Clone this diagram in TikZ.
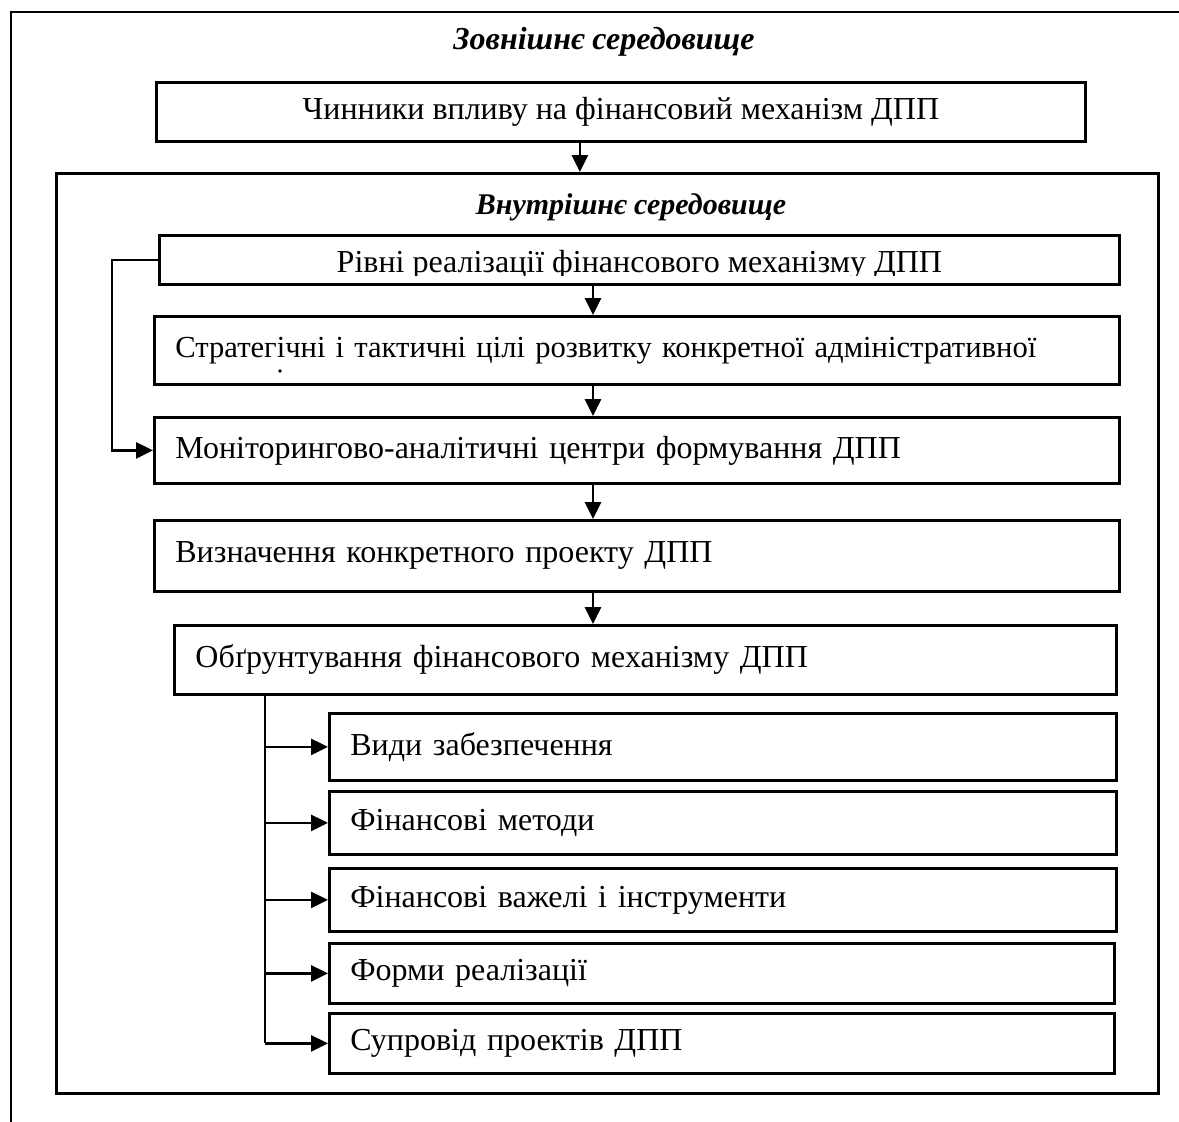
\documentclass[tikz,border=0pt]{standalone}
\usepackage{fontspec}
\setmainfont{Liberation Serif}
\usetikzlibrary{arrows.meta,positioning}

\begin{document}
\begin{tikzpicture}[
  x=1pt, y=-1pt,
  font=\fontsize{32}{37}\selectfont,
  box/.style={draw, line width=2.8pt, anchor=north west, inner ysep=0pt, inner xsep=21pt},
  boxc/.style={box, align=center},
  boxl/.style={box, align=left},
  ttl/.style={font=\fontsize{30}{35}\selectfont\bfseries\itshape},
  arr/.style={-{Triangle[length=17pt,width=16pt]}, line width=2.8pt}
]
\useasboundingbox (0,0) rectangle (1179,1122);
% outer frame (cut by the page)
\draw[line width=2.8pt] (11,1140) -- (11,12) -- (1200,12);
\node[ttl, font=\fontsize{32}{37}\selectfont\bfseries\itshape] (outer) at (604,42) {Зовнішнє середовище};
\node[boxc, minimum width=929pt, minimum height=59pt] (chynnyky) at (155,81) {Чинники впливу на фінансовий механізм ДПП};

% inner frame
\node[box, minimum width=1102pt, minimum height=920pt] (inner) at (55,172) {};
\node[ttl] (innerttl) at (631,207) {Внутрішнє середовище};

\node[box, minimum width=960pt, minimum height=49pt] (rivni) at (158,234) {};
\begin{scope}
  \clip (rivni.north west) rectangle ([yshift=10pt]rivni.south east);
  \node (rivnitxt) at ([yshift=-5pt]rivni.center) {Рівні реалізації фінансового механізму ДПП};
\end{scope}
\node[boxl, minimum width=965pt, minimum height=68pt, text width=923pt, font=\fontsize{30.6}{36}\selectfont] (strat) at (153,315) {Стратегічні і тактичні цілі розвитку конкретної адміністративної};
\node[circle, fill, inner sep=1.3pt] (stratdot) at (280,371) {};
\node[boxl, minimum width=965pt, minimum height=66pt, text width=923pt] (monit) at (153,416) {Моніторингово-аналітичні центри формування ДПП};
\node[boxl, minimum width=965pt, minimum height=71pt, text width=923pt] (vyzn) at (153,519) {Визначення конкретного проекту ДПП};
\node[boxl, minimum width=942pt, minimum height=69pt, text width=900pt] (obgr) at (173,624) {Обґрунтування фінансового механізму ДПП};

% components
\node[boxl, minimum width=787pt, minimum height=67pt, text width=745pt] (vydy) at (328,712) {Види забезпечення};
\node[boxl, minimum width=787pt, minimum height=63pt, text width=745pt] (metody) at (328,790) {Фінансові методи};
\node[boxl, minimum width=787pt, minimum height=63pt, text width=745pt] (vazheli) at (328,867) {Фінансові важелі і інструменти};
\node[boxl, minimum width=785pt, minimum height=60pt, text width=743pt] (formy) at (328,942) {Форми реалізації};
\node[boxl, minimum width=785pt, minimum height=60pt, text width=743pt] (suprovid) at (328,1012) {Супровід проектів ДПП};

\coordinate (spine) at (593,0);
\coordinate (branch) at (265,0);

\draw[arr] ([xshift=-41pt]chynnyky.south) -- ([xshift=-41pt]chynnyky.south |- inner.north);
\draw[arr] (rivni.south -| spine) -- (strat.north -| spine);
\draw[arr] (strat.south -| spine) -- (monit.north -| spine);
\draw[arr] (monit.south -| spine) -- (vyzn.north -| spine);
\draw[arr] (vyzn.south -| spine) -- (obgr.north -| spine);
\draw[arr] (rivni.west) -- ++(-46,0) |- (monit.west);
\draw[line width=2.8pt] (obgr.south -| branch) -- (suprovid.west -| branch);
\draw[arr] (vydy.west -| branch) -- (vydy.west);
\draw[arr] (metody.west -| branch) -- (metody.west);
\draw[arr] (vazheli.west -| branch) -- (vazheli.west);
\draw[arr] (formy.west -| branch) -- (formy.west);
\draw[arr] (suprovid.west -| branch) -- (suprovid.west);
\end{tikzpicture}
\end{document}
